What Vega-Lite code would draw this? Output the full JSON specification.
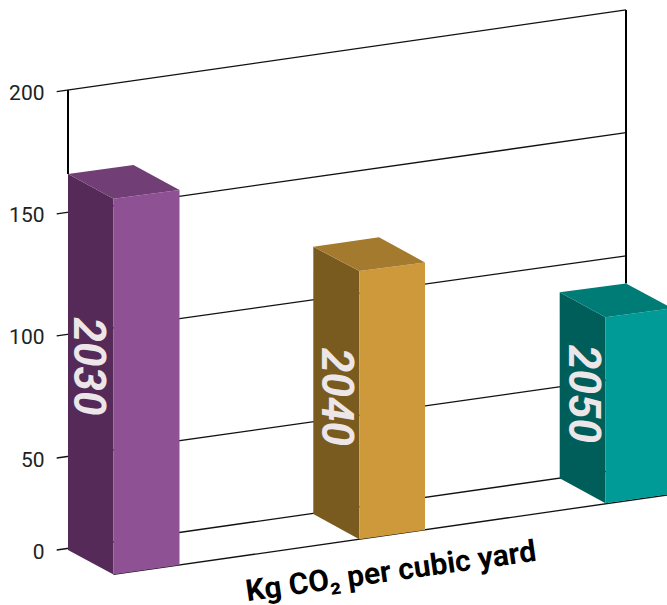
{"$schema":"https://vega.github.io/schema/vega-lite/v6.json","width":611,"height":605,"autosize":"none","padding":{"left":56,"top":0,"right":0,"bottom":0},"background":"white","view":{"stroke":null},
"datasets":{
"grid":[{"x":56.7,"x2":626,"y":200,"y2":233.5},{"x":56.7,"x2":626,"y":150,"y2":183.2},{"x":56.7,"x2":626,"y":100,"y2":132.8},{"x":56.7,"x2":626,"y":50,"y2":83},{"x":56.7,"x2":626,"y":0,"y2":44.2},{"x":113.5,"x2":667,"y":-13.3,"y2":29.9}],
"walls":[{"x":68,"x2":68,"y":200.7,"y2":166.3},{"x":626,"x2":626,"y":233.5,"y2":121.5}],
"faces":[
{"face":"2030 side","v":1,"x":68,"y":166.3},{"face":"2030 side","v":2,"x":113.5,"y":156.2},{"face":"2030 side","v":3,"x":113.5,"y":-13.3},{"face":"2030 side","v":4,"x":68,"y":0},
{"face":"2030 front","v":1,"x":113.5,"y":156.2},{"face":"2030 front","v":2,"x":179.5,"y":159.7},{"face":"2030 front","v":3,"x":179.5,"y":-8.2},{"face":"2030 front","v":4,"x":113.5,"y":-13.3},
{"face":"2030 top","v":1,"x":68,"y":166.3},{"face":"2030 top","v":2,"x":133.5,"y":170},{"face":"2030 top","v":3,"x":179.5,"y":159.7},{"face":"2030 top","v":4,"x":113.5,"y":156.2},
{"face":"2040 side","v":1,"x":313.3,"y":136.5},{"face":"2040 side","v":2,"x":359.3,"y":126.6},{"face":"2040 side","v":3,"x":359.3,"y":5.8},{"face":"2040 side","v":4,"x":313.3,"y":19.6},
{"face":"2040 front","v":1,"x":359.3,"y":126.6},{"face":"2040 front","v":2,"x":425,"y":130.1},{"face":"2040 front","v":3,"x":425,"y":10.9},{"face":"2040 front","v":4,"x":359.3,"y":5.8},
{"face":"2040 top","v":1,"x":313.3,"y":136.5},{"face":"2040 top","v":2,"x":379,"y":140.4},{"face":"2040 top","v":3,"x":425,"y":130.1},{"face":"2040 top","v":4,"x":359.3,"y":126.6},
{"face":"2050 side","v":1,"x":559.7,"y":117.9},{"face":"2050 side","v":2,"x":605.5,"y":107.6},{"face":"2050 side","v":3,"x":605.5,"y":25.4},{"face":"2050 side","v":4,"x":559.7,"y":39},
{"face":"2050 front","v":1,"x":605.5,"y":107.6},{"face":"2050 front","v":2,"x":672,"y":111.3},{"face":"2050 front","v":3,"x":672,"y":30.5},{"face":"2050 front","v":4,"x":605.5,"y":25.4},
{"face":"2050 top","v":1,"x":559.7,"y":117.9},{"face":"2050 top","v":2,"x":626,"y":121.5},{"face":"2050 top","v":3,"x":672,"y":111.3},{"face":"2050 top","v":4,"x":605.5,"y":107.6}],
"years":[{"label":"2030","x":87,"y":87.5},{"label":"2040","x":335,"y":75},{"label":"2050","x":582,"y":76.2}],
"title":[{"label":"Kg CO₂ per cubic yard","x":391,"y":-12}]},
"encoding":{
"x":{"field":"x","type":"quantitative","scale":{"domain":[56,667],"nice":false,"zero":false},"axis":null},
"y":{"field":"y","type":"quantitative","scale":{"domain":[0,50,200],"range":[550,458,91.7],"nice":false,"zero":false},"axis":{"values":[0,50,100,150,200],"title":null,"domain":false,"ticks":false,"grid":false,"labelPadding":12,"labelOffset":2,"labelFont":"Roboto","labelFontSize":21,"labelFontWeight":400,"labelColor":"#222222"}}},
"layer":[
{"data":{"name":"grid"},"mark":{"type":"rule","stroke":"#111111","strokeWidth":1.3},"encoding":{"x2":{"field":"x2"},"y2":{"field":"y2"}}},
{"data":{"name":"walls"},"mark":{"type":"rule","stroke":"#000000","strokeWidth":2},"encoding":{"x2":{"field":"x2"},"y2":{"field":"y2"}}},
{"data":{"name":"faces"},"mark":{"type":"line","strokeWidth":0,"interpolate":"linear"},"encoding":{"order":{"field":"v","type":"quantitative"},"detail":{"field":"face"},"fill":{"field":"face","type":"nominal","legend":null,"scale":{"domain":["2030 side","2030 front","2030 top","2040 side","2040 front","2040 top","2050 side","2050 front","2050 top"],"range":["#552a58","#8e5193","#713f75","#7a5b1f","#cd993b","#a47b2e","#005e5a","#009b96","#007c77"]}}}},
{"data":{"name":"years"},"mark":{"type":"text","angle":90,"align":"center","baseline":"middle","font":"Roboto","fontSize":44,"fontWeight":"bold","fontStyle":"italic","fill":"#ece6e8"},"encoding":{"text":{"field":"label"}}},
{"data":{"name":"title"},"mark":{"type":"text","angle":-8,"align":"center","baseline":"middle","font":"Roboto","fontSize":30,"fontWeight":"bold","fill":"#000000"},"encoding":{"text":{"field":"label"}}}
]}
